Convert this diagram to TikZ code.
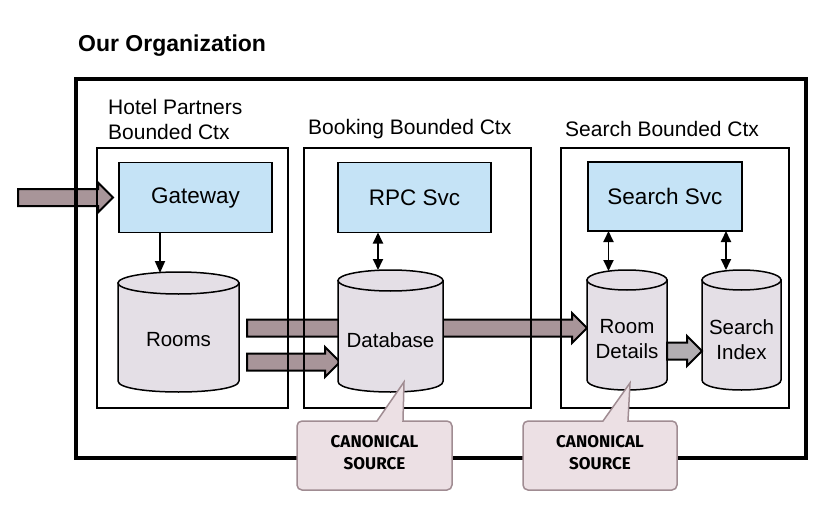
\documentclass[tikz,border=0pt]{standalone}
\usepackage{fontspec}
\setmainfont{Liberation Sans}
\newfontfamily\handfont{Fira Sans}
\usetikzlibrary{arrows.meta,calc}
\definecolor{svcblue}{RGB}{197,227,246}
\definecolor{cylfill}{RGB}{228,223,230}
\definecolor{fatfill}{RGB}{168,149,153}
\definecolor{dotfill}{RGB}{178,174,178}
\definecolor{callfill}{RGB}{236,224,228}
\definecolor{calldraw}{RGB}{160,140,146}
\tikzset{
  outerbox/.style={draw=black, line width=3.5pt, inner sep=0pt, outer sep=0pt},
  ctxbox/.style={draw=black, line width=2pt, inner sep=0pt, outer sep=0pt},
  svc/.style={draw=black, line width=1.5pt, fill=svcblue, inner sep=0pt, outer sep=0pt,
    font=\fontsize{22.5}{27}\selectfont},
  cyl/.style={draw=black, line width=1.5pt, fill=cylfill},
  cylnode/.style={inner sep=0pt, outer sep=0pt},
  cyltxt/.style={font=\fontsize{20.5}{25}\selectfont, align=center, inner sep=0pt},
  lbl/.style={font=\fontsize{21}{25}\selectfont, align=left, inner sep=0pt, anchor=base west},
  ttl/.style={font=\bfseries\fontsize{23}{27}\selectfont, inner sep=0pt, anchor=base west},
  tarrow/.style={line width=1.8pt, -{Triangle[length=12pt,width=10pt]}},
  tdarrow/.style={line width=1.8pt, {Triangle[length=11pt,width=10pt]}-{Triangle[length=11pt,width=10pt]}},
  fat/.style={draw=black, line width=2pt, fill=fatfill, line join=miter},
  fatdot/.style={draw=black, line width=2pt, fill=dotfill, line join=miter},
  callbox/.style={draw=calldraw, line width=1.5pt, fill=callfill},
  calltxt/.style={font=\handfont\bfseries\fontsize{17}{22}\selectfont, align=center, inner sep=0pt}
}
% name, xl, xr, top, bottom, ry, text, text shift
\newcommand\dbcyl[8]{%
  \pgfmathsetmacro\cxx{(#2+#3)/2}%
  \pgfmathsetmacro\rxx{(#3-#2)/2}%
  \pgfmathsetmacro\cyy{(#4+#5)/2}%
  \pgfmathsetmacro\yta{#4+#6}%
  \pgfmathsetmacro\ybb{#5-#6}%
  \pgfmathsetmacro\ww{#3-#2}%
  \pgfmathsetmacro\hh{#5-#4}%
  \filldraw[cyl] (#2,\yta) -- (#2,\ybb) .. controls (#2,\ybb+1.3333*#6) and (#3,\ybb+1.3333*#6) .. (#3,\ybb) -- (#3,\yta) -- cycle;
  \filldraw[cyl] (\cxx,\yta) ellipse [x radius=\rxx pt, y radius=#6pt];
  \node[cylnode, minimum width=\ww pt, minimum height=\hh pt,
        label={[cyltxt, yshift=-#8pt]center:#7}] (#1) at (\cxx,\cyy) {};
}
% fat arrow: start, end (y taken from start)
\newcommand\fatarrow[3][fat]{%
  \filldraw[#1] let \p1=#2, \p2=#3 in
    (\x1,\y1+8.5pt) -- (\x2-15pt,\y1+8.5pt) -- (\x2-15pt,\y1+15pt) -- (\x2,\y1)
    -- (\x2-15pt,\y1-15pt) -- (\x2-15pt,\y1-8.5pt) -- (\x1,\y1-8.5pt) -- cycle;
}
\begin{document}
\begin{tikzpicture}[x=1pt,y=-1pt]
\useasboundingbox (0,0) rectangle (839,514);

% title and context labels
\node[ttl] (title) at (78,52) {Our Organization};
\node[lbl] (hplbl) at (108,139) {Hotel Partners\\Bounded Ctx};
\node[lbl] (bklbl) at (308,134.5) {Booking Bounded Ctx};
\node[lbl] (srlbl) at (565,136.5) {Search Bounded Ctx};

% named geometry for service boxes
\node[svc, minimum width=153pt, minimum height=70pt] (gw) at (195.5,197.5) {Gateway};
\node[svc, minimum width=153pt, minimum height=70pt] (rpc) at (414.5,197.5) {RPC Svc};
\node[svc, minimum width=154pt, minimum height=69pt] (ss) at (665,196.5) {Search Svc};

% fat arrows behind the box lines
\coordinate (in0) at (18,197.5);
\fatarrow{(in0)}{($(gw.west)+(-6,0)$)}
\path (178.5,332) node[cylnode, minimum width=121pt, minimum height=120pt] (roomsp) {};
\path (627,330) node[cylnode, minimum width=80pt, minimum height=120pt] (rdp) {};
\path (390.5,331) node[cylnode, minimum width=105pt, minimum height=122pt] (dbp) {};
\fatarrow{($(roomsp.east)+(8,-4)$)}{($(rdp.west)+(0,0)$)}
\fatarrow{($(roomsp.east)+(8,30)$)}{($(dbp.west)+(2,0)$)}

% boxes
\node[outerbox, minimum width=730pt, minimum height=379pt] (org) at (441,268.5) {};
\node[ctxbox, minimum width=191pt, minimum height=260pt] (hp) at (192.5,278) {};
\node[ctxbox, minimum width=227pt, minimum height=260pt] (bk) at (417.5,278) {};
\node[ctxbox, minimum width=228pt, minimum height=260pt] (sr) at (675,278) {};

% service boxes on top
\node[svc, minimum width=153pt, minimum height=70pt] at (gw) {Gateway};
\node[svc, minimum width=153pt, minimum height=70pt] at (rpc) {RPC Svc};
\node[svc, minimum width=154pt, minimum height=69pt] at (ss) {Search Svc};

% cylinders
\dbcyl{rooms}{118}{239}{272}{392}{11}{Rooms}{8}
\dbcyl{db}{338}{443}{270}{392}{10.5}{Database}{9}
\dbcyl{rd}{587}{667}{270}{390}{10}{Room\\Details}{9.5}
\dbcyl{si}{702}{781}{270}{390}{10}{Search\\Index}{9.5}

\fatarrow[fatdot]{($(rd.east)+(0,21)$)}{($(si.west)+(0,0)$)}

% thin arrows
\draw[tarrow] ($(gw.south)+(-35.5,0)$) -- ($(rooms.north)+(-18.5,1)$);
\draw[tdarrow] ($(rpc.south)+(-36.5,0)$) -- ($(db.north)+(-12.5,0)$);
\draw[tdarrow] ($(ss.south)+(-56.5,0)$) -- ($(rd.north)+(-18.5,1)$);
\draw[tdarrow] ($(ss.south)+(61,0)$) -- ($(si.north)+(-15.5,0)$);

% callouts
\draw[callbox, rounded corners=5pt] (340,421) [sharp corners] -- (377,421) -- (404,382) -- (403,421)
  [rounded corners=5pt] -- (452,421) -- (452,490) -- (297,490) -- (297,421) -- cycle;
\node[calltxt] (cs1) at (374.5,453) {CANONICAL\\SOURCE};
\draw[callbox, rounded corners=5pt] (560,421) [sharp corners] -- (603,421) -- (630,383) -- (628,421)
  [rounded corners=5pt] -- (677,421) -- (677,490) -- (523,490) -- (523,421) -- cycle;
\node[calltxt] (cs2) at (600,453) {CANONICAL\\SOURCE};
\end{tikzpicture}
\end{document}
